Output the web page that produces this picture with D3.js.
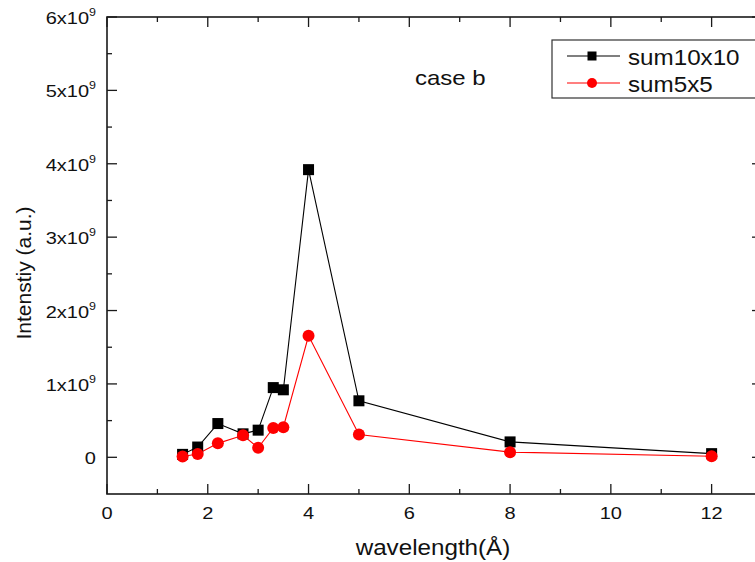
<!DOCTYPE html>
<html>
<head>
<meta charset="utf-8">
<script src="https://cdn.jsdelivr.net/npm/d3@7"></script>
<style>
  html, body { margin: 0; padding: 0; background: #fff; }
  svg { display: block; font-family: "Liberation Sans", Arial, Helvetica, sans-serif; }
</style>
</head>
<body>
<svg id="chart" width="755" height="562"></svg>
<script>
// Wavelength (Å) of each sample
const wavelengths = [1.5, 1.8, 2.2, 2.7, 3.0, 3.3, 3.5, 4.0, 5.0, 8.0, 12.0];
// Summed intensity (a.u.) over a 10x10 and a 5x5 window
const sum10x10 = [0.04e9, 0.14e9, 0.46e9, 0.32e9, 0.37e9, 0.95e9, 0.92e9, 3.92e9, 0.77e9, 0.21e9, 0.05e9];
const sum5x5   = [0.01e9, 0.045e9, 0.19e9, 0.30e9, 0.13e9, 0.40e9, 0.41e9, 1.655e9, 0.31e9, 0.07e9, 0.015e9];
// Axis ticks
const xTicks = [0, 2, 4, 6, 8, 10, 12];
const xMinorTicks = [1, 3, 5, 7, 9, 11, 13];
const yTicks = [0, 1e9, 2e9, 3e9, 4e9, 5e9, 6e9];
const yTickMantissas = ["0", "1", "2", "3", "4", "5", "6"];
const yMinorTicks = [0.5e9, 1.5e9, 2.5e9, 3.5e9, 4.5e9, 5.5e9];
const seriesNames = ["sum10x10", "sum5x5"];

const svg = d3.select("#chart");
const plotLeft = 107, plotRight = 762, plotTop = 17, plotBottom = 494;

const x = d3.scaleLinear().domain([0, 13]).range([plotLeft, plotRight]);
const y = d3.scaleLinear().domain([-0.5e9, 6e9]).range([plotBottom, plotTop]);

const axisColor = "#1a1a1a";

// frame
svg.append("rect")
  .attr("x", plotLeft).attr("y", plotTop)
  .attr("width", plotRight - plotLeft).attr("height", plotBottom - plotTop)
  .attr("fill", "none").attr("stroke", axisColor).attr("stroke-width", 1.6);

// inward ticks on all four sides
const tickG = svg.append("g").attr("stroke", axisColor).attr("stroke-width", 1.3);
const major = 10, minor = 5;
xTicks.forEach(v => {
  tickG.append("line").attr("x1", x(v)).attr("x2", x(v)).attr("y1", plotBottom).attr("y2", plotBottom - major);
  tickG.append("line").attr("x1", x(v)).attr("x2", x(v)).attr("y1", plotTop).attr("y2", plotTop + major);
});
xMinorTicks.forEach(v => {
  tickG.append("line").attr("x1", x(v)).attr("x2", x(v)).attr("y1", plotBottom).attr("y2", plotBottom - minor);
  tickG.append("line").attr("x1", x(v)).attr("x2", x(v)).attr("y1", plotTop).attr("y2", plotTop + minor);
});
yTicks.forEach(v => {
  tickG.append("line").attr("x1", plotLeft).attr("x2", plotLeft + major).attr("y1", y(v)).attr("y2", y(v));
  tickG.append("line").attr("x1", plotRight).attr("x2", plotRight - major).attr("y1", y(v)).attr("y2", y(v));
});
yMinorTicks.forEach(v => {
  tickG.append("line").attr("x1", plotLeft).attr("x2", plotLeft + minor).attr("y1", y(v)).attr("y2", y(v));
  tickG.append("line").attr("x1", plotRight).attr("x2", plotRight - minor).attr("y1", y(v)).attr("y2", y(v));
});

// text helper with a horizontal stretch
function label(px, py, sx, size, anchor) {
  return svg.append("g")
    .attr("transform", `translate(${px},${py}) scale(${sx},1)`)
    .append("text")
    .attr("font-size", size)
    .attr("text-anchor", anchor)
    .attr("fill", "#111");
}

// x tick labels
xTicks.forEach(v => {
  label(x(v), 519, 1.25, 16, "middle").text(v);
});

// y tick labels with powers of ten
yTicks.forEach((v, i) => {
  const t = label(96, y(v) + 7, 1.25, 16, "end");
  if (v === 0) {
    t.text("0");
  } else {
    t.append("tspan").text(yTickMantissas[i] + "x10");
    t.append("tspan").attr("font-size", 10).attr("dy", -8).text("9");
  }
});

// axis titles
label(433, 555, 1.1, 22, "middle").text("wavelength(Å)");
svg.append("text")
  .attr("transform", "translate(31,273) rotate(-90)")
  .attr("text-anchor", "middle").attr("font-size", 21).attr("fill", "#111")
  .text("Intenstiy (a.u.)");

// annotation
label(415, 85, 1.2, 20, "start").text("case b");

// series
const line = d3.line().x(d => x(d[0])).y(d => y(d[1]));
const black = wavelengths.map((w, i) => [w, sum10x10[i]]);
const red = wavelengths.map((w, i) => [w, sum5x5[i]]);

svg.append("path").datum(black).attr("d", line)
  .attr("fill", "none").attr("stroke", "#000").attr("stroke-width", 1.1);
svg.append("path").datum(red).attr("d", line)
  .attr("fill", "none").attr("stroke", "#ff0000").attr("stroke-width", 1.1);

const sq = 11;
svg.append("g").selectAll("rect").data(black).join("rect")
  .attr("x", d => x(d[0]) - sq / 2).attr("y", d => y(d[1]) - sq / 2)
  .attr("width", sq).attr("height", sq).attr("fill", "#000");
svg.append("g").selectAll("circle").data(red).join("circle")
  .attr("cx", d => x(d[0])).attr("cy", d => y(d[1])).attr("r", 6)
  .attr("fill", "#ff0000");

// legend
svg.append("rect").attr("x", 552).attr("y", 40).attr("width", 220).attr("height", 58)
  .attr("fill", "#fff").attr("stroke", "#333").attr("stroke-width", 1.2);
const legendRows = [
  { name: seriesNames[0], color: "#000", cy: 56, shape: "square" },
  { name: seriesNames[1], color: "#ff0000", cy: 83, shape: "circle" }
];
legendRows.forEach(r => {
  svg.append("line").attr("x1", 567).attr("x2", 620).attr("y1", r.cy).attr("y2", r.cy)
    .attr("stroke", r.color).attr("stroke-width", 1.1);
  if (r.shape === "square") {
    svg.append("rect").attr("x", 592 - 4.5).attr("y", r.cy - 4.5).attr("width", 9).attr("height", 9).attr("fill", r.color);
  } else {
    svg.append("circle").attr("cx", 592).attr("cy", r.cy).attr("r", 5).attr("fill", r.color);
  }
  label(628, r.cy + 9, 1.1, 22, "start").text(r.name);
});
</script>
</body>
</html>
